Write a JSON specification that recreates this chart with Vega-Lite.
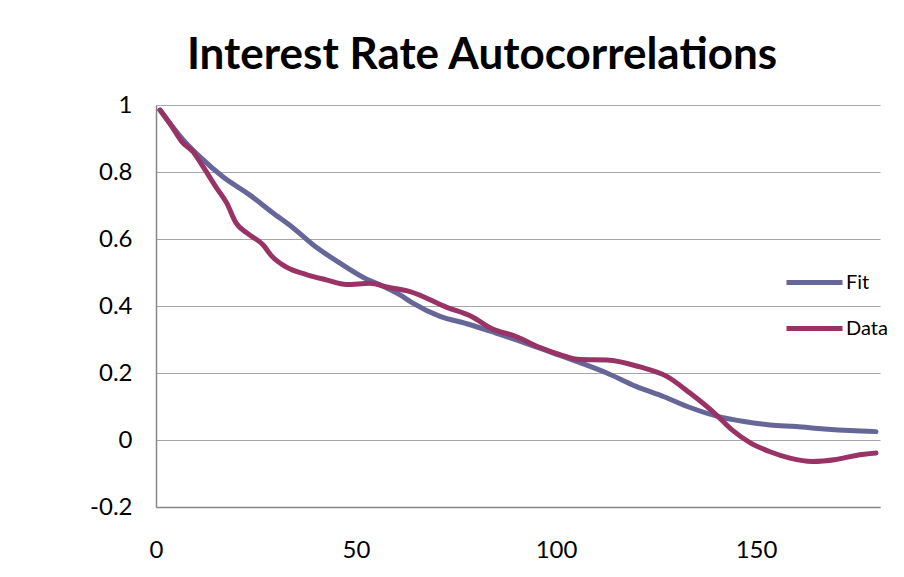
{
  "$schema": "https://vega.github.io/schema/vega-lite/v6.json",
  "autosize": {"type": "none"},
  "padding": {"left": 156, "top": 105, "right": 24, "bottom": 70},
  "width": 724,
  "height": 402,
  "background": "white",
  "title": {
    "text": "Interest Rate Autocorrelations",
    "font": "Lato",
    "fontSize": 44,
    "fontWeight": "bold",
    "color": "black",
    "anchor": "middle",
    "frame": "group",
    "baseline": "alphabetic",
    "offset": -20,
    "dx": -36
  },
  "data": {
    "values": [
      {"lag": 1, "value": 0.985, "series": "Fit"},
      {"lag": 6.8, "value": 0.896, "series": "Fit"},
      {"lag": 11, "value": 0.845, "series": "Fit"},
      {"lag": 16.8, "value": 0.785, "series": "Fit"},
      {"lag": 23.5, "value": 0.731, "series": "Fit"},
      {"lag": 29, "value": 0.68, "series": "Fit"},
      {"lag": 34, "value": 0.636, "series": "Fit"},
      {"lag": 40, "value": 0.576, "series": "Fit"},
      {"lag": 46, "value": 0.528, "series": "Fit"},
      {"lag": 52.7, "value": 0.48, "series": "Fit"},
      {"lag": 56, "value": 0.463, "series": "Fit"},
      {"lag": 61, "value": 0.433, "series": "Fit"},
      {"lag": 64, "value": 0.41, "series": "Fit"},
      {"lag": 71, "value": 0.369, "series": "Fit"},
      {"lag": 77.7, "value": 0.347, "series": "Fit"},
      {"lag": 85, "value": 0.319, "series": "Fit"},
      {"lag": 92, "value": 0.291, "series": "Fit"},
      {"lag": 99, "value": 0.261, "series": "Fit"},
      {"lag": 106, "value": 0.231, "series": "Fit"},
      {"lag": 112.7, "value": 0.2, "series": "Fit"},
      {"lag": 120, "value": 0.16, "series": "Fit"},
      {"lag": 127, "value": 0.129, "series": "Fit"},
      {"lag": 133.5, "value": 0.097, "series": "Fit"},
      {"lag": 140, "value": 0.072, "series": "Fit"},
      {"lag": 147, "value": 0.055, "series": "Fit"},
      {"lag": 153.5, "value": 0.045, "series": "Fit"},
      {"lag": 160, "value": 0.04, "series": "Fit"},
      {"lag": 167, "value": 0.033, "series": "Fit"},
      {"lag": 173.5, "value": 0.028, "series": "Fit"},
      {"lag": 180, "value": 0.025, "series": "Fit"},
      {"lag": 1, "value": 0.985, "series": "Data"},
      {"lag": 4, "value": 0.935, "series": "Data"},
      {"lag": 6.5, "value": 0.89, "series": "Data"},
      {"lag": 9.3, "value": 0.86, "series": "Data"},
      {"lag": 11.8, "value": 0.815, "series": "Data"},
      {"lag": 15, "value": 0.755, "series": "Data"},
      {"lag": 17.7, "value": 0.707, "series": "Data"},
      {"lag": 20, "value": 0.648, "series": "Data"},
      {"lag": 22.7, "value": 0.618, "series": "Data"},
      {"lag": 26.8, "value": 0.582, "series": "Data"},
      {"lag": 29, "value": 0.548, "series": "Data"},
      {"lag": 32.6, "value": 0.516, "series": "Data"},
      {"lag": 37.6, "value": 0.494, "series": "Data"},
      {"lag": 42.6, "value": 0.478, "series": "Data"},
      {"lag": 47.6, "value": 0.464, "series": "Data"},
      {"lag": 53.5, "value": 0.468, "series": "Data"},
      {"lag": 58, "value": 0.456, "series": "Data"},
      {"lag": 63.5, "value": 0.443, "series": "Data"},
      {"lag": 72.7, "value": 0.396, "series": "Data"},
      {"lag": 79, "value": 0.368, "series": "Data"},
      {"lag": 84, "value": 0.332, "series": "Data"},
      {"lag": 90, "value": 0.309, "series": "Data"},
      {"lag": 96, "value": 0.276, "series": "Data"},
      {"lag": 101, "value": 0.255, "series": "Data"},
      {"lag": 106, "value": 0.24, "series": "Data"},
      {"lag": 112.7, "value": 0.239, "series": "Data"},
      {"lag": 121, "value": 0.218, "series": "Data"},
      {"lag": 127.7, "value": 0.19, "series": "Data"},
      {"lag": 133.5, "value": 0.14, "series": "Data"},
      {"lag": 140, "value": 0.076, "series": "Data"},
      {"lag": 144, "value": 0.03, "series": "Data"},
      {"lag": 148.5, "value": -0.008, "series": "Data"},
      {"lag": 153.5, "value": -0.035, "series": "Data"},
      {"lag": 158.5, "value": -0.054, "series": "Data"},
      {"lag": 164, "value": -0.064, "series": "Data"},
      {"lag": 170, "value": -0.058, "series": "Data"},
      {"lag": 175, "value": -0.046, "series": "Data"},
      {"lag": 180, "value": -0.039, "series": "Data"}
    ]
  },
  "mark": {"type": "line", "strokeWidth": 5, "strokeCap": "round", "strokeJoin": "round", "interpolate": "monotone"},
  "encoding": {
    "x": {
      "field": "lag",
      "type": "quantitative",
      "scale": {"domain": [0, 181], "nice": false, "zero": false},
      "axis": {
        "title": null,
        "values": [0, 50, 100, 150],
        "grid": false,
        "ticks": false,
        "tickSize": 0,
        "domainColor": "#868686",
        "domainWidth": 1.5,
        "labelFont": "Lato",
        "labelFontSize": 24,
        "labelColor": "black",
        "labelPadding": 31,
        "labelFlush": false
      }
    },
    "y": {
      "field": "value",
      "type": "quantitative",
      "scale": {"domain": [-0.2, 1], "nice": false, "zero": false},
      "axis": {
        "title": null,
        "values": [-0.2, 0, 0.2, 0.4, 0.6, 0.8, 1],
        "labelExpr": "'' + datum.value",
        "grid": true,
        "gridColor": "#a6a6a6",
        "gridWidth": 1,
        "ticks": false,
        "tickSize": 0,
        "domainColor": "#868686",
        "domainWidth": 1.5,
        "labelFont": "Lato",
        "labelFontSize": 24,
        "labelColor": "black",
        "labelPadding": 24,
        "labelFlush": false
      }
    },
    "color": {
      "field": "series",
      "type": "nominal",
      "scale": {"domain": ["Fit", "Data"], "range": ["#666699", "#993366"]},
      "legend": {
        "title": null,
        "orient": "none",
        "legendX": 628,
        "legendY": 147,
        "symbolType": "stroke",
        "symbolSize": 3136,
        "symbolStrokeWidth": 5,
        "rowPadding": 5,
        "labelFont": "Lato",
        "labelFontSize": 20,
        "labelColor": "black",
        "labelOffset": 1
      }
    }
  },
  "config": {
    "view": {"stroke": null}
  }
}
